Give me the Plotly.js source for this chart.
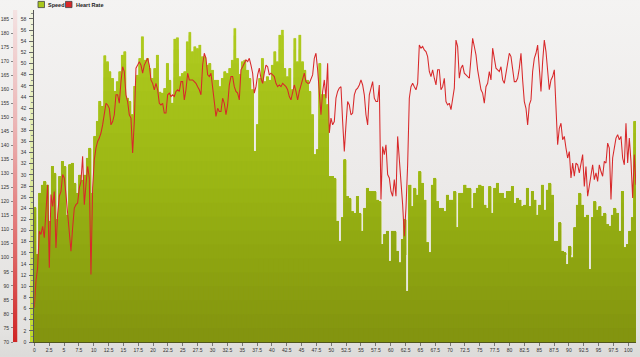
<!DOCTYPE html>
<html>
<head>
<meta charset="utf-8">
<script src="https://cdn.plot.ly/plotly-3.0.1.min.js"></script>
<style>html,body{margin:0;padding:0;background:#e4e3e1;}#chart{width:640px;height:357px;}</style>
</head>
<body>
<div id="chart"></div>
<script>
// Speed samples (km/h), one bar per sample, equally spaced in distance
const speedDistStart = 0.1, speedDistStep = 0.4209;
const speed = [
24.2,15.7,26.7,28.2,28.8,28.2,21.7,31.5,30.3,22,29.7,32.4,31.5,22.8,31.8,32.1,28.5,26.7,30,29.1,30,33,34.8,26.7,36.9,39.6,43.2,42.3,51.4,50.3,48.5,47.3,45,46.7,48.5,51.5,52.1,43.8,43.2,40.8,45.9,47.9,50.9,54.8,50.6,50.9,49.1,47.3,
49.1,51.5,44.9,44.7,45.5,50,47,42.9,54.4,54.6,47.6,48.2,48.5,53.9,55.6,52.1,53,52.7,53.3,51.2,51.2,49.7,50,48.8,47,47,45.8,47.3,48.5,48.2,49.1,50.6,56.3,50.9,48,50.3,50.6,48.8,47.3,45.3,34.2,39,47.3,50.9,46.7,47.6,47,49.7,
52.1,50.3,55.1,56,49.1,47.6,49.1,45.3,54.5,50.3,55.1,50.3,48.8,47,45,40.8,33.6,34.5,50,44.4,44.4,42.6,29.7,29.7,29.4,21.7,18.1,22.3,32.7,26.1,25.8,23.4,23.1,26.1,23.1,19.9,24,27.6,27,27,27,25.5,25.2,17.5,19.3,19.9,14.5,19.9,
19.9,16.3,14.2,18.4,22,9.1,28.2,24.3,27.6,26.4,30.6,28.5,25.5,17.8,16,28.2,29.4,25.2,24,24,23.4,26.4,25.5,25.5,27,20.5,26.7,26.7,28.2,27.6,27.6,24,26.7,27.6,28.2,27.9,24.6,24,27.9,23.1,27.6,28.5,26.7,26.7,25.8,27,27,27.9,
24.9,25.8,25.5,24.3,24.6,27.6,24.3,27,25.5,22.8,24.6,28.2,23.7,27.3,28.5,26.4,18.1,18.1,21.4,16.3,16,13.9,17.2,15.1,20.5,24.6,26.7,24.6,22.3,22.8,13,22.3,25.2,23.7,24.3,22.6,23.1,21.1,20.8,22.8,24,23.1,19.9,27,16.9,17.5,19.9,22.3,39.6
];
// Heart rate samples (bpm), equally spaced in distance
const hrDistStart = 0, hrDistStep = 0.2806;
const heartRate = [
82.2,91.7,96.4,109.4,108.3,111.2,107.1,116.5,126,96.4,122.5,118.3,123.6,103.5,115.4,121.9,123.6,129.6,128.4,122.5,116.5,109.4,102.3,110.6,117.7,118.9,119.5,124.8,127.2,136.1,118.9,126,132.5,128.4,94,124.8,134.9,139,141.4,142.6,144.4,147.3,152.1,155,154.4,153.2,147.3,148.5,150.9,158,158,155,162.7,168,166.3,158,155.6,150.9,149.7,137.3,148.5,167.5,168.6,169.8,168.6,165.7,168.6,169.8,171,168.6,163.3,162.1,
159.8,162.1,159.8,155,154.4,155,151.5,151.5,158,158.6,157.4,158,157.4,159.2,159.8,159.2,162.7,162.7,156.2,159.8,165.7,163.3,163.3,163.3,162.7,162.1,160.9,159.8,158,168.6,172.8,171,165.1,164.5,165.7,159.2,155.6,150.3,153.2,152.1,152.1,156.8,155,150.9,154.4,161.5,164.5,164.5,160.9,159.2,158.6,156.2,166.9,168,169.2,170.4,169.8,171,168.6,165.7,158.6,160.9,165.1,167.5,163.9,162.1,165.7,168.6,168,165.1,165.7,165.1,
164.5,162.1,160.9,161.5,160.9,162.1,161.5,160.9,159.8,157.4,156.2,159.2,161.5,159.2,156.2,159.2,161.5,163.3,165.7,162.7,162.1,162.1,163.3,165.1,171,172.8,166.9,159.8,150.9,159.2,163.3,156.8,169.2,144.4,149.7,147.3,148.5,156.8,159.2,160.4,160.9,148.5,137.8,147.3,155.6,154.4,150.9,151.5,158,159.8,160.4,161.5,163.3,161.5,158,150.9,147.3,158,160.4,162.7,156.8,155.6,155.6,161.5,120.7,139.6,136.7,140.2,129.6,128.4,123.6,121.9,
127.8,121.9,143.2,135.5,129.6,118.9,107.7,117.7,133.1,156.8,160.9,162.1,160.9,159.8,162.1,175.7,174.6,175.2,174,173.4,171.6,166.3,164.5,166.9,163.9,161.5,166.9,166.9,159.8,160.9,163.9,155.6,154.4,155,152.7,156.8,160.4,177.5,175.2,163.9,167.5,168.6,165.7,165.1,164.5,163.9,171,178.1,175.2,172.2,166.9,162.7,159.8,158.6,155,160.9,162.1,166.3,163.3,174.6,170.4,167.5,166.9,166.3,168,163.3,162.1,166.3,169.8,172.8,171.6,166.9,
162.7,162.7,163.9,167.5,172.8,163.3,155.6,153.2,147.3,154.4,156.2,166.3,171,172.8,175.7,167.5,159.2,169.8,177.5,173.4,165.7,159.8,163.3,164.5,166.9,154.4,140.2,146.1,147.9,142,143.2,139,135.5,137.8,128.4,133.7,129,133.7,133.1,130.2,134.3,136.7,125.4,132.5,121.9,126,130.7,133.1,127.8,130.2,127.2,133.1,130.7,129,134.3,133.7,140.8,139,120.7,135.5,139,142.6,143.8,142,143.2,135.5,133.1,147.9,133.7,142.6,134.3,121.3,136.7,126
];
const legendLabels = ["Speed", "Heart Rate"];

const speedDist = speed.map((_, i) => speedDistStart + i * speedDistStep);
const hrDist = heartRate.map((_, i) => hrDistStart + i * hrDistStep);

// ---- layout geometry (pixels) ----
const W = 640, H = 357, ML = 13, MR = 4, MT = 10, MB = 14.5;
const PW = W - ML - MR, PH = H - MT - MB;
const px2x = p => (p - ML) / PW;
const px2y = p => (H - MB - p) / PH;

// vertical colour gradient for bars: banded overlay traces
function hex(c){return [parseInt(c.slice(1,3),16),parseInt(c.slice(3,5),16),parseInt(c.slice(5,7),16)];}
const stops = [[0,'#829210'],[15,'#8ea511'],[30,'#9bb615'],[45,'#a7c31a'],[60,'#b2ce21']];
function colAt(v){
  for(let i=0;i<stops.length-1;i++){
    const [a,ca]=stops[i],[b,cb]=stops[i+1];
    if(v<=b){const t=(v-a)/(b-a);const A=hex(ca),B=hex(cb);
      return 'rgb('+A.map((x,j)=>Math.round(x+(B[j]-x)*t)).join(',')+')';}
  }
  return stops[stops.length-1][1];
}
const traces = [];
const bandStep = 2.5;
const nBands = Math.ceil(60 / bandStep);
for (let k = nBands - 1; k >= 0; k--) {
  const top = (k + 1) * bandStep;
  const first = (k === nBands - 1);
  traces.push({
    type: 'bar', x: speedDist, y: speed.map(v => Math.min(v, top)),
    marker: {color: colAt(top - bandStep / 2),
             line: first ? {width: 0.6, color: 'rgba(205,222,120,0.95)'} : {width: 0}},
    hoverinfo: 'skip', showlegend: false, xaxis: 'x', yaxis: 'y'
  });
}
traces.push({
  type: 'scatter', mode: 'lines', x: hrDist, y: heartRate, yaxis: 'y2',
  line: {color: '#d8282a', width: 1.05}, hoverinfo: 'skip', showlegend: false
});

function svgUri(s){return 'data:image/svg+xml;base64,' + btoa(s);}
function vgrad(stopsArr){
  return svgUri('<svg xmlns="http://www.w3.org/2000/svg" width="10" height="100" preserveAspectRatio="none"><defs><linearGradient id="g" x1="0" y1="0" x2="0" y2="1">' +
    stopsArr.map(s => '<stop offset="' + s[0] + '" stop-color="' + s[1] + '"/>').join('') +
    '</linearGradient></defs><rect width="10" height="100" fill="url(#g)"/></svg>');
}

const tickFont = {family: 'Liberation Sans, Arial, sans-serif', size: 5, color: '#333'};

const layout = {
  width: W, height: H,
  margin: {l: ML, r: MR, t: MT, b: MB, pad: 0},
  paper_bgcolor: '#dddcda', plot_bgcolor: 'rgba(0,0,0,0)',
  barmode: 'overlay', bargap: 0.1,
  showlegend: false,
  xaxis: {
    domain: [px2x(34.3), 1], range: [0, 101.3],
    tickmode: 'linear', tick0: 0, dtick: 2.5,
    ticks: 'outside', ticklen: 3, tickcolor: '#777', tickwidth: 1,
    showline: true, linecolor: '#50561e', linewidth: 1,
    showgrid: false, zeroline: false, tickfont: tickFont, fixedrange: true
  },
  yaxis: {
    range: [0, 59.6], tickmode: 'linear', tick0: 0, dtick: 2,
    ticks: 'outside', ticklen: 4, tickcolor: '#666', tickwidth: 1,
    minor: {dtick: 1, ticks: 'outside', ticklen: 2, tickcolor: '#888'},
    showline: true, linecolor: '#555', linewidth: 1,
    showgrid: false, zeroline: false, tickfont: tickFont, ticklabelstandoff: 2
  },
  yaxis2: {
    overlaying: 'y', anchor: 'free', position: 0, side: 'left',
    range: [70, 188.2], tickmode: 'linear', tick0: 70, dtick: 5,
    ticks: 'outside', ticklen: 2, tickcolor: '#888',
    showline: false, showgrid: false, zeroline: false, tickfont: tickFont, ticklabelstandoff: 1
  },
  images: [
    {source: vgrad([[0,'#f4f3f2'],[0.5,'#eceae9'],[0.93,'#e3e2e0'],[1,'#dcdbd9']]),
     xref: 'paper', yref: 'paper', x: px2x(0), y: px2y(0), sizex: W / PW, sizey: H / PH,
     xanchor: 'left', yanchor: 'top', sizing: 'stretch', layer: 'below'},
    {source: vgrad([[0,'#f4e2e2'],[0.35,'#ebb4b4'],[0.7,'#e06e6e'],[1,'#cf2424']]),
     xref: 'paper', yref: 'paper', x: px2x(13), y: px2y(10), sizex: 4.5 / PW, sizey: 332.7 / PH,
     xanchor: 'left', yanchor: 'top', sizing: 'stretch', layer: 'below'},
    {source: vgrad([[0,'#f1f4de'],[0.5,'#dde9a0'],[1,'#bdd928']]),
     xref: 'paper', yref: 'paper', x: px2x(30), y: px2y(10), sizex: 4.3 / PW, sizey: 332.5 / PH,
     xanchor: 'left', yanchor: 'top', sizing: 'stretch', layer: 'below'}
  ],
  shapes: [
    {type: 'rect', xref: 'paper', yref: 'paper', x0: px2x(38), x1: px2x(44.5), y0: px2y(7.6), y1: px2y(1.4),
     fillcolor: '#a9c71c', line: {color: '#444', width: 0.8}},
    {type: 'rect', xref: 'paper', yref: 'paper', x0: px2x(65.5), x1: px2x(72), y0: px2y(7.6), y1: px2y(1.4),
     fillcolor: '#d8282a', line: {color: '#444', width: 0.8}}
  ],
  annotations: [
    {text: legendLabels[0], xref: 'paper', yref: 'paper', x: px2x(45.5), y: px2y(4.6),
     xanchor: 'left', yanchor: 'middle', showarrow: false,
     font: {family: 'Liberation Sans, Arial, sans-serif', size: 5.5, color: '#222', weight: 'bold'}},
    {text: legendLabels[1], xref: 'paper', yref: 'paper', x: px2x(73.5), y: px2y(4.6),
     xanchor: 'left', yanchor: 'middle', showarrow: false,
     font: {family: 'Liberation Sans, Arial, sans-serif', size: 5.5, color: '#222', weight: 'bold'}}
  ]
};

Plotly.newPlot('chart', traces, layout, {staticPlot: true, displayModeBar: false});
</script>
</body>
</html>
